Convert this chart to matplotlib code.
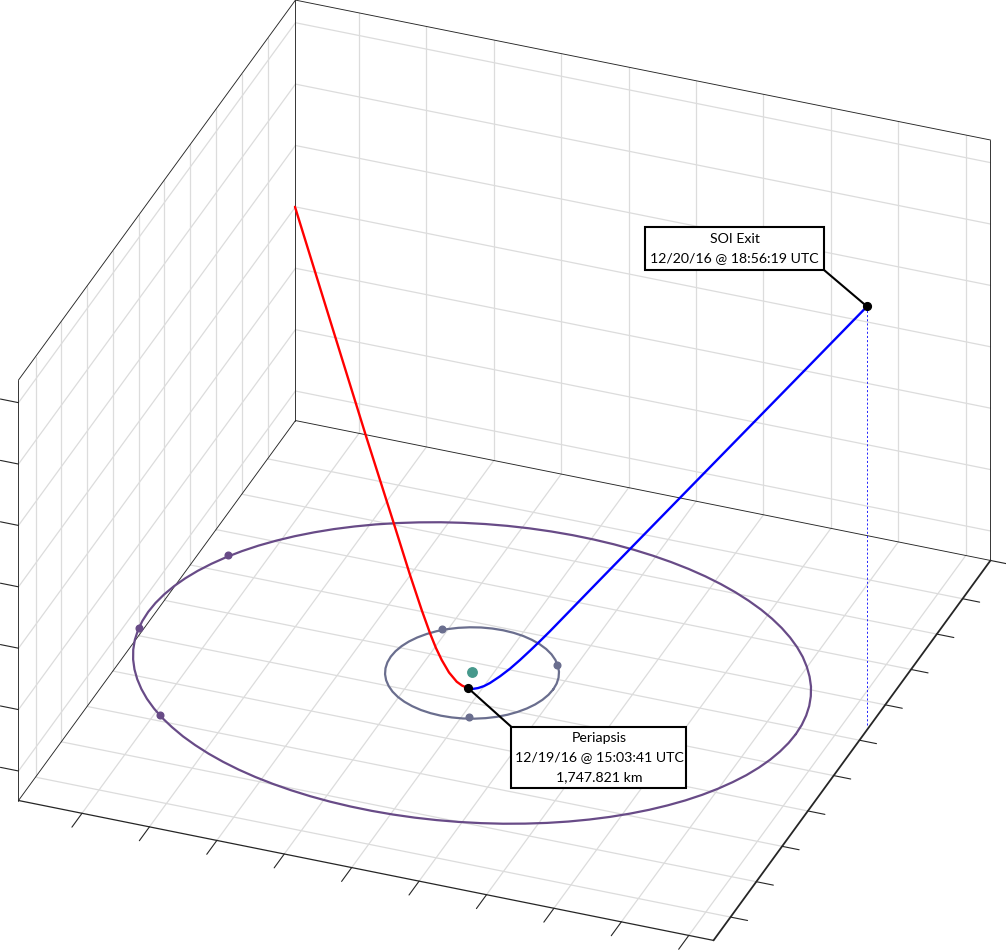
import matplotlib
matplotlib.use("Agg")
import matplotlib.pyplot as plt
from matplotlib.patches import Rectangle
from mpl_toolkits.mplot3d import proj3d

# ---- data, in percent of the plot box along each axis (the chart has no tick labels)
x_ticks = [9.14, 18.84, 28.54, 38.24, 47.94, 57.64, 67.34, 77.04, 86.74, 96.44]
y_ticks = [6.14, 15.45, 24.76, 34.07, 43.38, 52.69, 62.0, 71.31, 80.62, 89.93]
z_ticks = [7.02, 21.62, 36.22, 50.82, 65.42, 80.02, 94.62]

outer_x = [91.46, 91.36, 91.06, 90.57, 89.88, 89.01, 87.93, 86.68, 85.27, 83.67, 81.90, 79.99, 77.92,
           75.71, 73.37, 70.91, 68.35, 65.68, 62.93, 60.10, 57.20, 54.26, 51.27, 48.27, 45.24,
           42.21, 39.21, 36.22, 33.28, 30.38, 27.55, 24.80, 22.13, 19.57, 17.11, 14.77, 12.57,
           10.49, 8.58, 6.81, 5.22, 3.80, 2.55, 1.48, 0.60, -0.09, -0.58, -0.88, -0.98,
           -0.88, -0.58, -0.09, 0.60, 1.48, 2.55, 3.80, 5.22, 6.81, 8.58, 10.49, 12.57,
           14.77, 17.11, 19.57, 22.13, 24.80, 27.55, 30.38, 33.28, 36.22, 39.21, 42.21, 45.24,
           48.27, 51.27, 54.26, 57.20, 60.10, 62.93, 65.68, 68.35, 70.91, 73.37, 75.71, 77.92,
           79.99, 81.90, 83.67, 85.27, 86.68, 87.93, 89.01, 89.88, 90.57, 91.06, 91.36, 91.46]
outer_y = [51.16, 53.53, 55.88, 58.22, 60.52, 62.77, 64.97, 67.11, 69.18, 71.16, 73.06, 74.85, 76.54,
           78.12, 79.57, 80.91, 82.11, 83.18, 84.10, 84.87, 85.50, 85.98, 86.31, 86.48, 86.50,
           86.36, 86.07, 85.62, 85.02, 84.27, 83.38, 82.34, 81.17, 79.87, 78.43, 76.88, 75.21,
           73.43, 71.56, 69.60, 67.55, 65.43, 63.23, 60.99, 58.70, 56.38, 54.02, 51.65, 49.28,
           46.91, 44.56, 42.22, 39.92, 37.67, 35.47, 33.33, 31.27, 29.28, 27.38, 25.59, 23.91,
           22.32, 20.87, 19.53, 18.33, 17.26, 16.34, 15.57, 14.94, 14.46, 14.13, 13.96, 13.94,
           14.08, 14.37, 14.82, 15.42, 16.17, 17.06, 18.10, 19.27, 20.57, 22.01, 23.56, 25.24,
           27.01, 28.88, 30.84, 32.90, 35.01, 37.21, 39.45, 41.74, 44.06, 46.42, 48.79, 51.16]
outer_dots_x = [3.90, -0.62, 10.0]
outer_dots_y = [65.96, 45.17, 26.10]

inner_x = [56.93, 56.83, 56.53, 56.04, 55.36, 54.51, 53.51, 52.36, 51.09, 49.71, 48.27, 46.77, 45.24,
           43.71, 42.21, 40.77, 39.39, 38.12, 36.97, 35.97, 35.12, 34.44, 33.95, 33.65, 33.55,
           33.65, 33.95, 34.44, 35.12, 35.97, 36.97, 38.12, 39.39, 40.77, 42.21, 43.71, 45.24,
           46.77, 48.27, 49.71, 51.09, 52.36, 53.51, 54.51, 55.36, 56.04, 56.53, 56.83, 56.93]
inner_y = [50.22, 51.69, 53.13, 54.52, 55.84, 57.06, 58.17, 59.14, 59.95, 60.60, 61.08, 61.36, 61.46,
           61.36, 61.08, 60.60, 59.95, 59.14, 58.17, 57.06, 55.84, 54.52, 53.13, 51.69, 50.22,
           48.75, 47.31, 45.92, 44.60, 43.38, 42.27, 41.30, 40.49, 39.84, 39.36, 39.08, 38.98,
           39.08, 39.36, 39.84, 40.49, 41.30, 42.27, 43.38, 44.60, 45.92, 47.31, 48.75, 50.22]
inner_dots_x = [37.51, 55.21, 48.95]
inner_dots_y = [58.87, 56.0, 39.93]

moon_xy = (45.21, 50.39)

inbound_x = [0.0, 10.13, 20.53, 28.24, 33.11, 36.35, 38.58, 40.07, 41.40, 42.95, 44.38, 45.25, 46.17]
inbound_y = [99.82, 87.03, 73.93, 64.36, 58.27, 54.35, 51.77, 50.17, 48.91, 47.66, 46.84, 46.59, 46.54]
inbound_z = [51.0, 39.04, 26.74, 17.73, 12.01, 8.30, 5.83, 4.27, 3.0, 1.67, 0.70, 0.29, 0.0]

outbound_x = [46.17, 46.82, 47.39, 48.16, 48.94, 50.25, 51.58, 52.91, 54.24, 55.58, 56.92, 58.27, 59.84,
              63.65, 69.02, 75.07, 83.81, 91.88, 99.54]
outbound_y = [46.54, 46.62, 46.98, 47.21, 47.42, 47.74, 48.03, 48.30, 48.56, 48.81, 49.06, 49.29, 49.57,
              50.24, 51.18, 52.25, 53.79, 55.22, 56.57]
outbound_z = [0.0, 0.0, 0.05, 0.57, 1.38, 3.11, 5.11, 7.38, 9.79, 12.29, 14.87, 17.56, 20.69,
              28.29, 38.96, 50.96, 68.29, 84.29, 99.5]

soi_label = "SOI Exit\n12/20/16 @ 18:56:19 UTC"
peri_label = "Periapsis\n12/19/16 @ 15:03:41 UTC\n1,747.821 km"

# ---- style
GRID = "#dcdcdc"
FRAME = "#262626"
OUTER = "#684b87"
INNER = "#6a6e8e"
MOON = "#46998c"
FONT = "Lato"

W, H = 1006, 950
BOX = (744, 774, 494)

fig = plt.figure(figsize=(W / 100, H / 100), dpi=100, facecolor="white")
ax = fig.add_axes([-0.1, -0.1, 1.2, 1.2], projection="3d", proj_type="ortho")
ax.set_xlim(0, 100, view_margin=0)
ax.set_ylim(0, 100, view_margin=0)
ax.set_zlim(0, 100, view_margin=0)
ax.view_init(elev=31.7, azim=-69.04)
ax.set_box_aspect(BOX)
ax.set_axis_off()
ax.patch.set_alpha(0)
ax.computed_zorder = False


def to_px(x, y, z):
    xs, ys, _ = proj3d.proj_transform(x, y, z, ax.get_proj())
    return ax.transData.transform((xs, ys))


# fit the box to the reference frame: front-left floor corner and front edge length
ax.apply_aspect()
p0 = to_px(0, 0, 0)
p1 = to_px(100, 0, 0)
length = ((p1[0] - p0[0]) ** 2 + (p1[1] - p0[1]) ** 2) ** 0.5
ax.set_box_aspect(BOX, zoom=708.96 / length)
ax.apply_aspect()
p0 = to_px(0, 0, 0)
pos = ax.get_position(original=True)
ax.set_position([pos.x0 + (18.5 - p0[0]) / W, pos.y0 + ((H - 800.5) - p0[1]) / H, pos.width, pos.height])
ax.apply_aspect()


def line(xs, ys, zs, **kw):
    kw.setdefault("clip_on", False)
    ax.plot(xs, ys, zs, solid_capstyle="round", solid_joinstyle="round", **kw)


# grid
for v in x_ticks:
    line([v, v], [0, 100], [0, 0], color=GRID, lw=0.9, zorder=1)
    line([v, v], [100, 100], [0, 100], color=GRID, lw=0.9, zorder=1)
for v in y_ticks:
    line([0, 100], [v, v], [0, 0], color=GRID, lw=0.9, zorder=1)
    line([0, 0], [v, v], [0, 100], color=GRID, lw=0.9, zorder=1)
for v in z_ticks:
    line([0, 100], [100, 100], [v, v], color=GRID, lw=0.9, zorder=1)
    line([0, 0], [0, 100], [v, v], color=GRID, lw=0.9, zorder=1)

# frame
thin = dict(color=FRAME, lw=0.65, zorder=2)
line([0, 0], [0, 0], [0, 100], **thin)
line([0, 0], [0, 100], [100, 100], **thin)
line([0, 0], [100, 100], [0, 100], **thin)
line([0, 0], [0, 100], [0, 0], **thin)
line([0, 100], [100, 100], [0, 0], **thin)
line([0, 100], [100, 100], [100, 100], **thin)
line([100, 100], [100, 100], [0, 100], **thin)
line([0, 100], [0, 0], [0, 0], color=FRAME, lw=0.9, zorder=2)
line([100, 100], [0, 100], [0, 0], color=FRAME, lw=1.3, zorder=2)

# tick marks
for v in x_ticks:
    line([v, v], [0, -3.65], [0, 0], color=FRAME, lw=0.8, zorder=2)
for v in y_ticks:
    line([100, 102.45], [v, v], [0, 0], color=FRAME, lw=0.8, zorder=2)
line([100, 102.45], [100, 100], [0, 0], color=FRAME, lw=0.8, zorder=2)
for v in z_ticks:
    line([0, -2.6], [0, 0], [v, v], color=FRAME, lw=0.8, zorder=2)

# orbits
line(outer_x, outer_y, [0] * len(outer_x), color=OUTER, lw=1.6, zorder=3)
line(inner_x, inner_y, [0] * len(inner_x), color=INNER, lw=1.6, zorder=3)
ax.plot(outer_dots_x, outer_dots_y, [0] * 3, ls="", marker="o", ms=4.8, color=OUTER, zorder=4, clip_on=False)
ax.plot(inner_dots_x, inner_dots_y, [0] * 3, ls="", marker="o", ms=4.8, color=INNER, zorder=4, clip_on=False)
ax.plot([moon_xy[0]], [moon_xy[1]], [0], ls="", marker="o", ms=6.8, color=MOON, zorder=4, clip_on=False)

# trajectory
line(inbound_x, inbound_y, inbound_z, color="#ff0000", lw=1.7, zorder=5)
line(outbound_x, outbound_y, outbound_z, color="#0000ff", lw=1.7, zorder=5)
ax.plot([outbound_x[-1]] * 2, [outbound_y[-1]] * 2, [0, outbound_z[-1]], color="#0000ff", lw=0.6,
        dashes=(2.5, 2.5), zorder=4, clip_on=False)
ax.plot([inbound_x[-1], outbound_x[-1]], [inbound_y[-1], outbound_y[-1]], [inbound_z[-1], outbound_z[-1]],
        ls="", marker="o", ms=5.6, color="black", zorder=7, clip_on=False)

# annotation boxes, placed in figure pixels
ov = fig.add_axes([0, 0, 1, 1], facecolor="none")
ov.set_xlim(0, W)
ov.set_ylim(H, 0)
ov.set_axis_off()


def callout(left, top, right, bottom, corner, target, label):
    tx, ty = to_px(*target)
    ov.plot([corner[0], tx], [corner[1], H - ty], color="black", lw=1.5, zorder=6)
    ov.add_patch(Rectangle((left, top), right - left, bottom - top, fc="white", ec="black", lw=1.5, zorder=8))
    lines = label.split("\n")
    step = 19.6
    start = (top + bottom) / 2 - step * (len(lines) - 1) / 2
    for i, s in enumerate(lines):
        ov.text((left + right) / 2, start + i * step, s, ha="center", va="center",
                family=FONT, fontsize=10.2, color="black", zorder=9)


callout(645.5, 227, 824, 270, (824, 270), (outbound_x[-1], outbound_y[-1], outbound_z[-1]), soi_label)
callout(511.5, 727, 686.5, 787.5, (511.5, 727), (inbound_x[-1], inbound_y[-1], inbound_z[-1]), peri_label)

fig.savefig("out.png", dpi=100)
